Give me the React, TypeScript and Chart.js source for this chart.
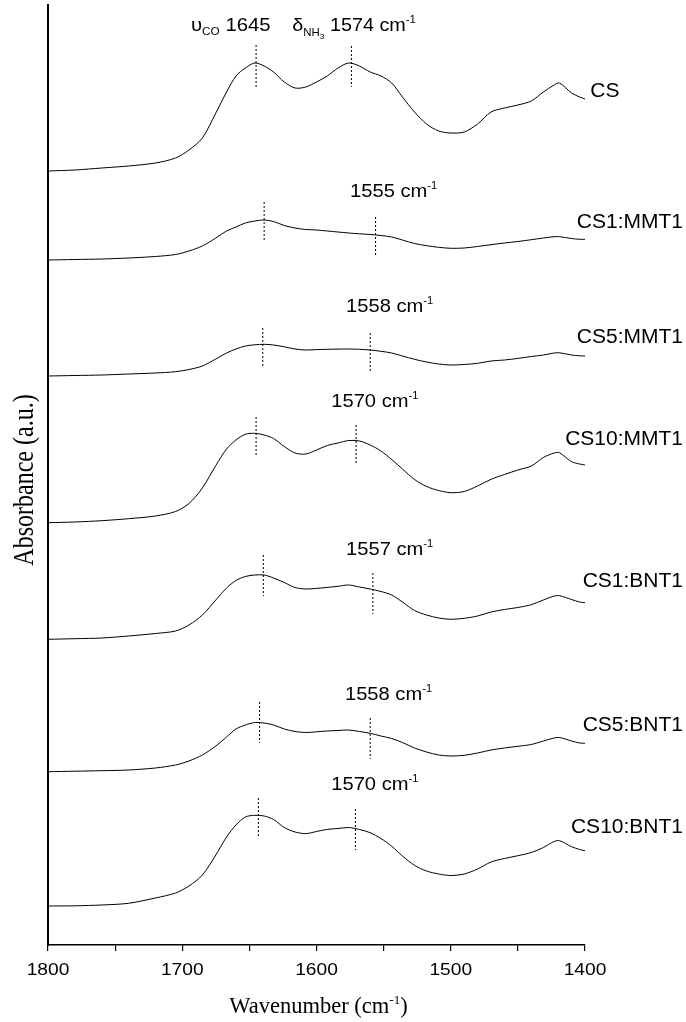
import React, { useEffect, useRef } from 'react';
import { Chart, registerables } from 'chart.js';

Chart.register(...registerables);

// ---------- data ----------
const wavenumbers = [1800, 1780, 1760, 1740, 1720, 1705, 1695, 1685, 1675, 1667, 1660, 1653, 1646, 1639, 1632, 1624, 1616, 1608, 1600, 1592, 1584, 1576, 1568, 1560, 1552, 1544, 1536, 1527, 1518, 1509, 1500, 1490, 1480, 1470, 1460, 1450, 1440, 1431, 1423, 1419, 1410, 1404, 1400];

const seriesNames = ['CS', 'CS1:MMT1', 'CS5:MMT1', 'CS10:MMT1', 'CS1:BNT1', 'CS5:BNT1', 'CS10:BNT1'];

const csValues = [7.74, 7.75, 7.77, 7.79, 7.82, 7.87, 7.95, 8.07, 8.32, 8.53, 8.69, 8.77, 8.82, 8.79, 8.73, 8.63, 8.57, 8.58, 8.63, 8.69, 8.77, 8.82, 8.79, 8.73, 8.69, 8.62, 8.48, 8.33, 8.21, 8.14, 8.12, 8.13, 8.21, 8.33, 8.37, 8.40, 8.44, 8.53, 8.60, 8.62, 8.52, 8.48, 8.46];
const cs1MmtValues = [6.85, 6.855, 6.86, 6.87, 6.885, 6.905, 6.94, 6.99, 7.07, 7.14, 7.18, 7.22, 7.24, 7.25, 7.235, 7.195, 7.17, 7.155, 7.15, 7.14, 7.13, 7.12, 7.112, 7.105, 7.095, 7.08, 7.05, 7.015, 6.993, 6.977, 6.967, 6.97, 6.985, 7.003, 7.02, 7.035, 7.053, 7.07, 7.083, 7.083, 7.065, 7.057, 7.057];
const cs5MmtValues = [5.69, 5.695, 5.70, 5.71, 5.72, 5.733, 5.755, 5.79, 5.86, 5.92, 5.96, 5.99, 6.002, 6.007, 6.00, 5.982, 5.96, 5.95, 5.954, 5.957, 5.959, 5.96, 5.957, 5.95, 5.937, 5.92, 5.89, 5.857, 5.83, 5.81, 5.80, 5.805, 5.817, 5.84, 5.85, 5.866, 5.885, 5.90, 5.92, 5.922, 5.90, 5.892, 5.89];
const cs10MmtValues = [4.223, 4.23, 4.243, 4.263, 4.29, 4.335, 4.415, 4.57, 4.795, 4.96, 5.05, 5.107, 5.117, 5.10, 5.065, 4.985, 4.92, 4.91, 4.95, 4.995, 5.02, 5.045, 5.04, 5.00, 4.94, 4.855, 4.76, 4.655, 4.585, 4.545, 4.523, 4.535, 4.59, 4.657, 4.705, 4.75, 4.79, 4.875, 4.92, 4.922, 4.833, 4.81, 4.80];
const cs1BntValues = [3.057, 3.063, 3.07, 3.09, 3.115, 3.14, 3.20, 3.30, 3.45, 3.57, 3.645, 3.685, 3.70, 3.70, 3.67, 3.625, 3.575, 3.56, 3.566, 3.576, 3.587, 3.60, 3.58, 3.56, 3.535, 3.50, 3.43, 3.345, 3.30, 3.27, 3.257, 3.267, 3.29, 3.33, 3.355, 3.375, 3.403, 3.45, 3.49, 3.493, 3.455, 3.43, 3.423];
const cs5BntValues = [1.733, 1.738, 1.743, 1.75, 1.77, 1.80, 1.84, 1.90, 1.99, 2.08, 2.16, 2.20, 2.225, 2.22, 2.20, 2.16, 2.135, 2.125, 2.132, 2.14, 2.145, 2.15, 2.135, 2.117, 2.09, 2.065, 2.025, 1.97, 1.93, 1.90, 1.89, 1.897, 1.92, 1.95, 1.97, 1.987, 2.005, 2.04, 2.07, 2.075, 2.04, 2.02, 2.017];
const cs10BntValues = [0.39, 0.392, 0.40, 0.417, 0.47, 0.52, 0.59, 0.70, 0.90, 1.08, 1.20, 1.28, 1.297, 1.29, 1.255, 1.175, 1.13, 1.114, 1.135, 1.156, 1.165, 1.175, 1.155, 1.123, 1.065, 0.988, 0.89, 0.797, 0.74, 0.71, 0.695, 0.71, 0.76, 0.83, 0.865, 0.893, 0.925, 0.975, 1.035, 1.043, 0.983, 0.955, 0.943];

const allSeries = [csValues, cs1MmtValues, cs5MmtValues, cs10MmtValues, cs1BntValues, cs5BntValues, cs10BntValues];

// dashed peak markers: wavenumber, top value, bottom value
const markerWavenumbers = [1645, 1574, 1639, 1556, 1640, 1560, 1645, 1570.5, 1639.6, 1558, 1642.4, 1560, 1643.3, 1571];
const markerTops = [9.00, 8.99, 7.43, 7.28, 6.17, 6.12, 5.28, 5.20, 3.90, 3.72, 2.43, 2.27, 1.47, 1.36];
const markerBottoms = [8.58, 8.58, 7.03, 6.88, 5.77, 5.72, 4.88, 4.80, 3.49, 3.31, 2.02, 1.86, 1.07, 0.95];

// band position annotations
const bandTexts = ['1555', '1558', '1570', '1557', '1558', '1570'];
const bandTextX = [1575, 1578, 1589, 1578, 1578.8, 1589];
const bandTextY = [7.48, 6.33, 5.377, 3.90, 2.45, 1.55];

// series name label anchors
const nameX = [1396, 1327, 1327, 1327, 1327, 1327, 1327];
const nameY = [8.483, 7.167, 6.02, 5.00, 3.577, 2.143, 1.123];
const nameAlign = ['left', 'right', 'right', 'right', 'right', 'right', 'right'];

const xMajorTicks = [1800, 1700, 1600, 1500, 1400];
const xTickLabels = ['1800', '1700', '1600', '1500', '1400'];

const SANS = '"Liberation Sans", Arial, Helvetica, sans-serif';
const SERIF = '"Liberation Serif", "Times New Roman", serif';

type Seg = { t: string; size: number; dy?: number };

function drawRich(ctx: CanvasRenderingContext2D, segs: Seg[], x: number, y: number, align: string, family: string, sx: number) {
  let total = 0;
  const widths = segs.map((s) => {
    ctx.font = `${s.size}px ${family}`;
    const w = ctx.measureText(s.t).width * sx;
    total += w;
    return w;
  });
  let cx = align === 'center' ? x - total / 2 : align === 'right' ? x - total : x;
  ctx.textAlign = 'left';
  ctx.textBaseline = 'alphabetic';
  segs.forEach((s, i) => {
    ctx.font = `${s.size}px ${family}`;
    ctx.save();
    ctx.translate(cx, y + (s.dy || 0));
    ctx.scale(sx, 1);
    ctx.fillText(s.t, 0, 0);
    ctx.restore();
    cx += widths[i];
  });
}

const textPlugin = {
  id: 'ftirTexts',
  afterDraw(chart: any) {
    const ctx: CanvasRenderingContext2D = chart.ctx;
    const xs = chart.scales.x;
    const ys = chart.scales.y;
    ctx.save();
    ctx.fillStyle = '#000';

    // x tick labels
    xMajorTicks.forEach((v, i) => {
      drawRich(ctx, [{ t: xTickLabels[i], size: 17 }], xs.getPixelForValue(v), 975, 'center', SANS, 1.13);
    });

    // top annotations
    drawRich(ctx, [{ t: 'υ', size: 19 }, { t: 'CO', size: 11, dy: 4 }, { t: ' 1645', size: 19 }],
      xs.getPixelForValue(1693.5), ys.getPixelForValue(9.14), 'left', SANS, 1.07);
    drawRich(ctx, [{ t: 'δ', size: 19 }, { t: 'NH', size: 11, dy: 5 }, { t: '3', size: 8, dy: 8 }, { t: ' 1574 cm', size: 19 }, { t: '-1', size: 11, dy: -8 }],
      xs.getPixelForValue(1618), ys.getPixelForValue(9.14), 'left', SANS, 1.04);

    // band annotations
    bandTexts.forEach((t, i) => {
      drawRich(ctx, [{ t: t + ' cm', size: 19 }, { t: '-1', size: 10.5, dy: -8 }],
        xs.getPixelForValue(bandTextX[i]), ys.getPixelForValue(bandTextY[i]), 'left', SANS, 1.06);
    });

    // series names
    seriesNames.forEach((n, i) => {
      drawRich(ctx, [{ t: n, size: 20 }], xs.getPixelForValue(nameX[i]), ys.getPixelForValue(nameY[i]), nameAlign[i], SANS, 1.05);
    });

    // x title
    drawRich(ctx, [{ t: 'Wavenumber (cm', size: 22.5 }, { t: '-1', size: 13, dy: -9 }, { t: ')', size: 22.5 }],
      (chart.chartArea.left + chart.chartArea.right) / 2 + 2, 1013, 'center', SERIF, 1.0);

    // y title
    ctx.save();
    ctx.translate(33, (chart.chartArea.top + chart.chartArea.bottom) / 2 + 5);
    ctx.rotate(-Math.PI / 2);
    ctx.scale(1, 1.25);
    drawRich(ctx, [{ t: 'Absorbance (a.u.)', size: 24 }], 0, 0, 'center', SERIF, 1.0);
    ctx.restore();

    ctx.restore();
  },
};

export default function App() {
  const ref = useRef<HTMLCanvasElement>(null);

  useEffect(() => {
    document.body.style.margin = '0';
    document.body.style.background = '#fff';
    const spectra = allSeries.map((vals, k) => ({
      label: seriesNames[k],
      data: wavenumbers.map((x, i) => ({ x, y: vals[i] })),
      borderColor: '#000',
      borderWidth: 1,
      pointRadius: 0,
      tension: 0.3,
      fill: false,
    }));
    const markers = markerWavenumbers.map((wn, i) => ({
      label: 'marker' + i,
      data: [{ x: wn, y: markerTops[i] }, { x: wn, y: markerBottoms[i] }],
      borderColor: '#000',
      borderWidth: 1,
      borderDash: [2, 2],
      pointRadius: 0,
      fill: false,
    }));

    const chart = new Chart(ref.current as HTMLCanvasElement, {
      type: 'line',
      data: { datasets: [...spectra, ...markers] as any },
      options: {
        animation: false,
        responsive: false,
        devicePixelRatio: 1,
        layout: { padding: { top: 5, right: 101, left: 0, bottom: 0 } },
        plugins: { legend: { display: false }, tooltip: { enabled: false } },
        events: [],
        scales: {
          x: {
            type: 'linear',
            min: 1400,
            max: 1800,
            reverse: true,
            ticks: { stepSize: 50, display: false },
            grid: { display: true, drawOnChartArea: false, drawTicks: true, tickLength: 6, color: '#000', lineWidth: 1.2 },
            border: { display: true, color: '#000', width: 1.5 },
            afterFit: (s: any) => { s.height = 77; },
          },
          y: {
            type: 'linear',
            min: 0,
            max: 9.4,
            ticks: { display: false },
            grid: { display: false },
            border: { display: true, color: '#000', width: 2 },
            afterFit: (s: any) => { s.width = 48; },
          },
        },
      } as any,
      plugins: [textPlugin],
    });
    return () => chart.destroy();
  }, []);

  return (
    <div style={{ width: 686, height: 1022, background: '#fff' }}>
      <canvas ref={ref} width={686} height={1022} style={{ display: 'block', width: 686, height: 1022 }} />
    </div>
  );
}
